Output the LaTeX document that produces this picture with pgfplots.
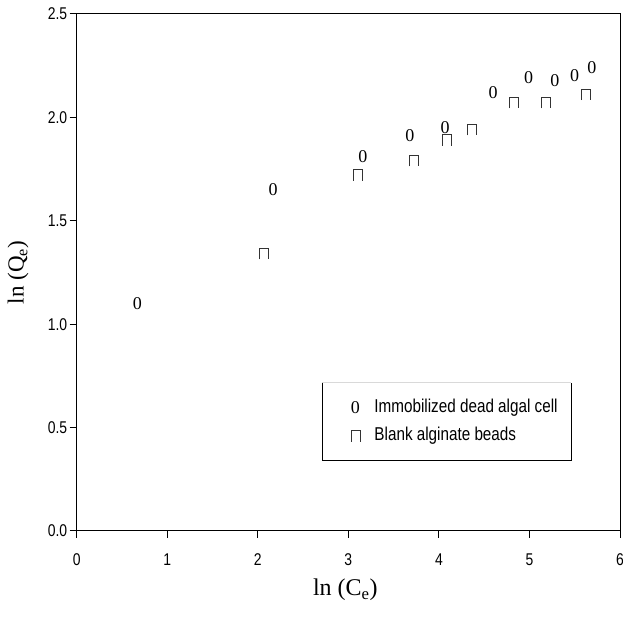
\documentclass[border=0pt]{standalone}
\usepackage{fontspec}
\setmainfont{Liberation Serif}
\newfontfamily\narrow[FakeStretch=0.82]{Liberation Sans}
\usepackage{pgfplots}
\pgfplotsset{compat=1.18}

% open-bottom square used by SigmaPlot
\pgfdeclareplotmark{cap}{%
  \pgfpathmoveto{\pgfqpoint{-4.5pt}{-5.5pt}}%
  \pgfpathlineto{\pgfqpoint{-4.5pt}{5.5pt}}%
  \pgfpathlineto{\pgfqpoint{4.5pt}{5.5pt}}%
  \pgfpathlineto{\pgfqpoint{4.5pt}{-5.5pt}}%
  \pgfusepathqstroke}

\begin{document}
\begin{tikzpicture}
\begin{axis}[
    scale only axis,
    width=543.3pt, height=517pt,
    xmin=0, xmax=6, ymin=0, ymax=2.5,
    clip=false,
    xtick={0,1,2,3,4,5,6},
    ytick={0,0.5,1.0,1.5,2.0,2.5},
    yticklabel style={xshift=1pt, /pgf/number format/fixed,
      /pgf/number format/fixed zerofill, /pgf/number format/precision=1},
    /pgf/number format/assume math mode=true,
    tick label style={font=\narrow\fontsize{17}{17}\selectfont},
    xticklabel style={yshift=-12pt},
    tick pos=left,
    tick align=outside,
    major tick length=7pt,
    axis line style={line width=1pt},
    tick style={draw=black, line width=1pt},
    xlabel={ln (C\textsubscript{e})},
    ylabel={ln (Q\textsubscript{e})},
    xlabel style={font=\fontsize{24}{24}\selectfont, at={(axis description cs:0.5,0)}, anchor=center, yshift=-59pt, xshift=-3pt},
    ylabel style={font=\fontsize{23}{23}\selectfont, at={(axis description cs:0,0.5)}, anchor=center, yshift=58.7pt},
    legend style={draw=none, fill=none, at={(axis cs:4.17,0.527)}, anchor=center,
      font=\narrow\fontsize{18.6}{18.6}\selectfont,
      row sep=11pt, column sep=0pt,
      nodes={inner sep=0pt, text height=13pt, text depth=4pt}},
    legend cell align=left,
]
\addplot[only marks, mark=text, text mark={\fontsize{18}{18}\selectfont 0}] coordinates {
  (0.67,1.10) (2.17,1.65) (3.16,1.81) (3.68,1.91) (4.07,1.95)
  (4.60,2.12) (4.99,2.19) (5.28,2.18) (5.50,2.20) (5.69,2.24)
};
\addlegendentry{\hspace{14.5pt}Immobilized dead algal cell}
\addplot[only marks, mark=cap, mark options={line width=0.9pt, black!80}] coordinates {
  (2.07,1.34) (3.11,1.72) (3.72,1.79) (4.09,1.89) (4.37,1.94)
  (4.83,2.07) (5.18,2.07) (5.62,2.11)
};
\addlegendentry{\hspace{14.5pt}Blank alginate beads}
% tick marks
\pgfplotsinvokeforeach{0,1,2,3,4,5,6}{
  \draw[black, line width=1pt] (axis cs:#1,0) -- ++(0,-7pt);
}
\pgfplotsinvokeforeach{0.5,1.0,1.5,2.0}{
  \draw[black, line width=1pt] (axis cs:0,#1) -- ++(-5pt,0);
}
% legend frame
\draw[black, line width=0.9pt] (axis cs:2.709,0.716) -- (axis cs:2.709,0.343) -- (axis cs:5.459,0.343) -- (axis cs:5.459,0.716);
\draw[black!15, line width=0.9pt] (axis cs:2.709,0.716) -- (axis cs:5.459,0.716);
\end{axis}
\pgfresetboundingbox
\useasboundingbox ([xshift=-76.7pt,yshift=-89pt]current axis.south west) rectangle ++(623pt,620pt);
\end{tikzpicture}
\end{document}
